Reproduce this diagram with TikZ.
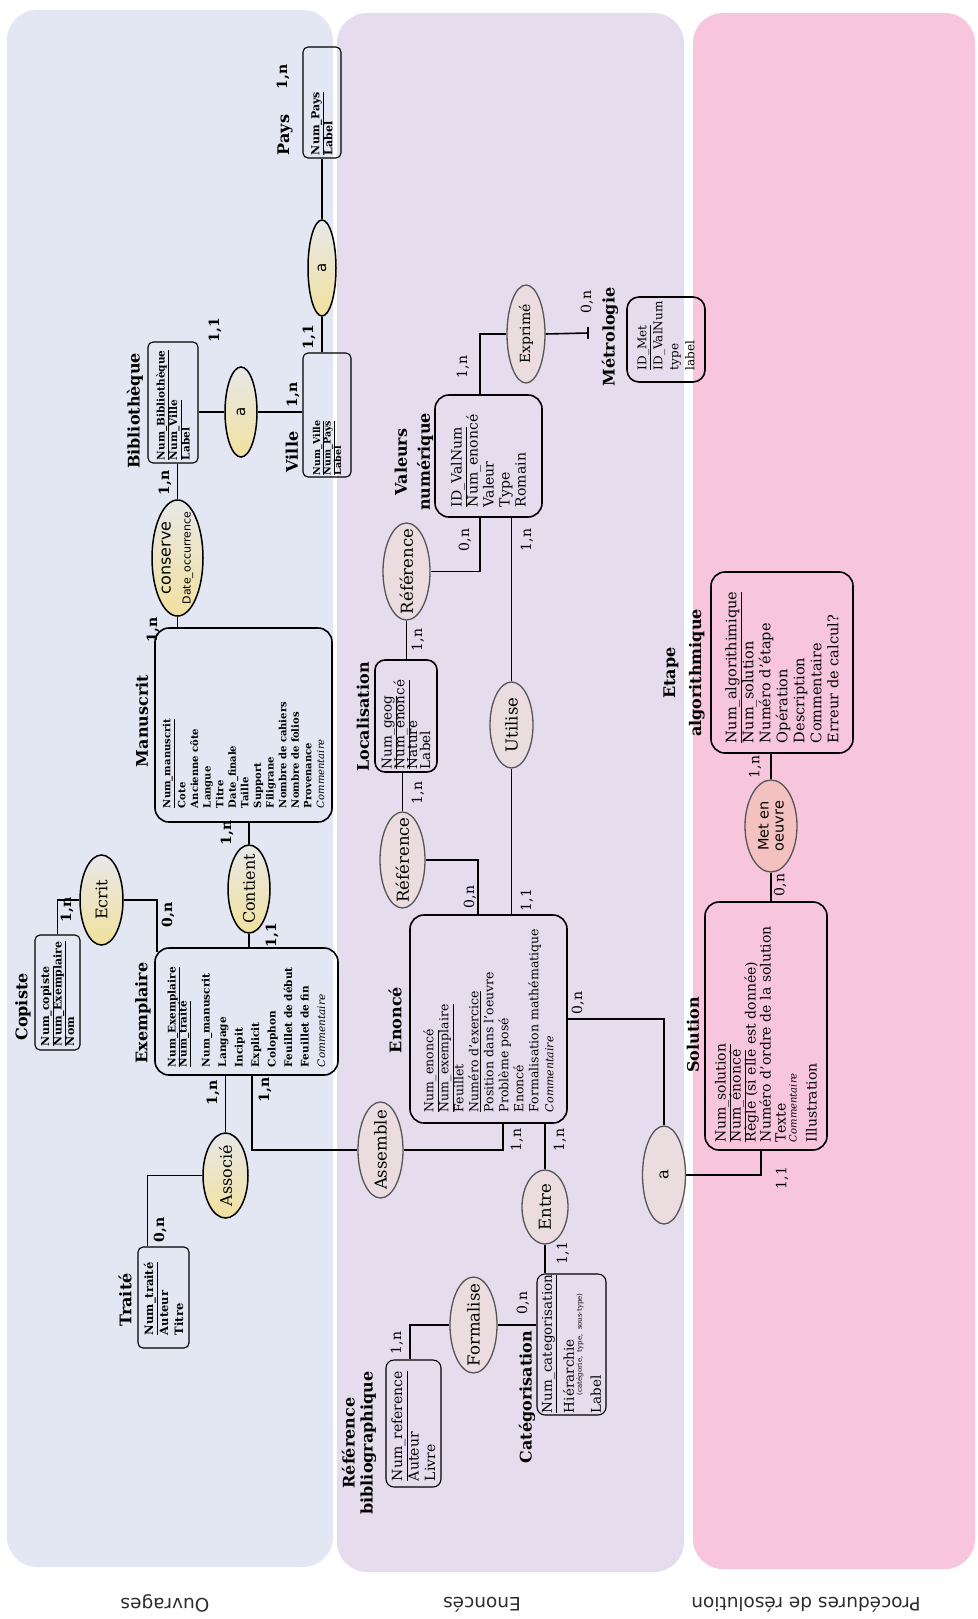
\documentclass[tikz,border=0pt]{standalone}
\usepackage{fontspec}
\setmainfont{DejaVu Serif}
\setsansfont{DejaVu Sans}
\usetikzlibrary{shapes.geometric}

\definecolor{fondouv}{RGB}{227,231,243}
\definecolor{fondeno}{RGB}{229,221,238}
\definecolor{fondproc}{RGB}{247,198,221}
\definecolor{ellgris}{RGB}{232,232,232}
\definecolor{elljaune}{RGB}{241,225,158}
\definecolor{ellrose}{RGB}{234,220,223}
\definecolor{ellsaumon}{RGB}{244,193,193}
\definecolor{bordgris}{RGB}{85,85,85}
\definecolor{textezone}{RGB}{45,45,45}

\newcommand{\taille}[2]{\fontsize{#1}{#2}\selectfont\lineskiplimit=-100pt\relax}
\newcommand{\dansell}[1]{\makebox[0pt]{#1}}

\begin{document}
\begin{tikzpicture}[x=1pt,y=-1pt,
    lien/.style={line width=1.6pt},
    ent/.style={draw,rotate=90,rounded corners=14pt,line width=1.6pt,align=left},
    petit/.style={draw,rotate=90,rounded corners=5pt,line width=1.1pt,align=left},
    titre/.style={rotate=90,align=center,font=\taille{16}{20}\bfseries},
    assoc/.style={ellipse,draw,rotate=90,inner sep=0pt,line width=1.5pt,top color=ellgris,bottom color=elljaune},
    assoce/.style={ellipse,draw=bordgris,rotate=90,inner sep=0pt,line width=1.3pt,fill=ellrose,font=\taille{16.5}{18}},
    card/.style={rotate=90,font=\taille{14}{14}},
    cardb/.style={rotate=90,font=\taille{14}{14}\bfseries},
    zone/.style={rotate=180,text=textezone,font=\sffamily\taille{18.5}{20}}]

    \useasboundingbox (0,0) rectangle (977,1619);

    % les trois zones
    \fill[fondouv,rounded corners=30pt] (7,10) rectangle (333,1567);
    \fill[fondeno,rounded corners=30pt] (337,13) rectangle (684,1572);
    \fill[fondproc,rounded corners=30pt] (693,13) rectangle (975,1569);
    \node[zone] (zOuv) at (165,1603) {Ouvrages};
    \node[zone] (zEno) at (482,1605) {Enoncés};
    \node[zone] (zProc) at (806,1605) {Procédures de résolution};

    % Ouvrages
    \node[petit,inner xsep=3pt,text width=105pt,minimum height=38pt,font=\taille{11}{13}\bfseries] (pays) at (322,102.5) {\underline{Num\_Pays}\\Label};
    \node[titre] (tPays) at (285,135) {Pays};
    \node[petit,inner xsep=2pt,text width=120pt,minimum height=48pt,font=\taille{9.5}{10.5}\bfseries] (ville) at (327,415) {\underline{Num\_Ville}\\\underline{Num\_Pays}\\Label};
    \node[titre] (tVille) at (292,452) {Ville};
    \node[petit,inner xsep=3pt,text width=115pt,minimum height=50pt,font=\taille{10.5}{12.5}\bfseries] (biblio) at (173,402.5) {\underline{Num\_Bibliothèque}\\\underline{Num\_Ville}\\Label};
    \node[titre] (tBiblio) at (135,411) {Bibliothèque};
    \node[ent,inner xsep=14pt,text width=166pt,minimum height=177pt,font=\taille{10}{12.6}\bfseries] (manus) at (243.5,725) {\underline{Num\_manuscrit}\\[2.5pt]Cote\\Ancienne côte\\Langue\\Titre\\Date\_finale\\Taille\\Support\\Filigrane\\Nombre de cahiers\\Nombre de folios\\Provenance\\\textmd{\textit{Commentaire}}};
    \node[titre] (tManus) at (142,721) {Manuscrit};
    \node[petit,inner xsep=4pt,text width=107pt,minimum height=45pt,font=\taille{11}{12.5}\bfseries] (copiste) at (57.5,992.5) {\underline{Num\_copiste}\\\underline{Num\_Exemplaire}\\Nom};
    \node[titre] (tCopiste) at (23,1007) {Copiste};
    \node[ent,inner xsep=8pt,text width=111pt,minimum height=183pt,font=\taille{10.5}{16.5}\bfseries] (exempl) at (246.5,1011.5) {\underline{Num\_Exemplaire}\\[-5.5pt]\underline{Num\_traité}\\[6.5pt]Num\_manuscrit\\Langage\\Incipit\\Explicit\\Colophon\\Feuillet de début\\Feuillet de fin\\\textmd{\textit{Commentaire}}};
    \node[titre] (tExempl) at (143,1013) {Exemplaire};
    \node[petit,inner xsep=13pt,text width=75pt,minimum height=51pt,font=\taille{11.5}{15}\bfseries] (traite) at (163.5,1297.5) {\underline{Num\_traité}\\Auteur\\Titre};
    \node[titre] (tTraite) at (125,1300) {Traité};

    \node[assoc,minimum width=96pt,minimum height=28pt,font=\sffamily\taille{15}{15}] (aPays) at (322,268) {\dansell{a}};
    \node[assoc,minimum width=90pt,minimum height=32pt,font=\sffamily\taille{15}{15}] (aVille) at (241,412) {\dansell{a}};
    \node[assoc,minimum width=116pt,minimum height=51pt,align=center,font=\sffamily\taille{16}{20}] (conserve) at (177.5,558) {\dansell{conserve}\\\dansell{\taille{11}{12}Date\_occurrence}};
    \node[assoc,minimum width=90pt,minimum height=43pt,font=\taille{16}{18}] (ecrit) at (101.5,900) {\dansell{Ecrit}};
    \node[assoc,minimum width=88pt,minimum height=42pt,font=\taille{16}{18}] (contient) at (249,889) {\dansell{Contient}};
    \node[assoc,minimum width=85pt,minimum height=45pt,font=\taille{16}{18}] (associe) at (225.5,1175.5) {\dansell{Associé}};

    % Enonces
    \node[ent,rounded corners=10pt,inner xsep=3pt,text width=106pt,minimum height=62pt,font=\taille{13.5}{12.8}] (local) at (406,716) {\underline{Num\_geog}\\\underline{Num\_enoncé}\\Nature\\Label};
    \node[titre] (tLocal) at (363,717) {Localisation};
    \node[ent,inner xsep=10pt,text width=102pt,minimum height=107pt,font=\taille{14}{16}] (valeurs) at (488.5,456) {\underline{ID\_ValNum}\\Num\_enoncé\\Valeur\\Type\\Romain};
    \node[titre,font=\taille{16}{23}\bfseries] (tValeurs) at (414,462) {Valeurs\\numérique};
    \node[ent,rounded corners=12pt,inner xsep=12pt,text width=61pt,minimum height=78pt,font=\taille{12}{16}] (metro) at (666,339.5) {\underline{ID\_Met}\\ID\_ValNum\\type\\label};
    \node[titre] (tMetro) at (610,337) {Métrologie};
    \node[ent,inner xsep=11pt,text width=186pt,minimum height=157pt,font=\taille{12.5}{15}] (enonce) at (488.5,1019) {\underline{Num\_enoncé}\\\underline{Num\_exemplaire}\\Feuillet\\\underline{Numéro d'exercice}\\Position dans l'oeuvre\\Problème posé\\Enoncé\\Formalisation~mathématique\\{\itshape\taille{11}{15}Commentaire}};
    \node[titre] (tEnonce) at (395,1020) {Enoncé};
    \node[petit,rounded corners=8pt,inner xsep=2pt,text width=137pt,minimum height=69pt,font=\taille{13.5}{15}] (categ) at (571.5,1344.5) {\underline{Num\_categorisation}\\[7pt]Hiérarchie\\[-7pt]\hspace*{18pt}{\taille{7}{8}(catégorie, type, sous-type)}\\[4pt]Label};
    \node[titre] (tCateg) at (527,1397) {Catégorisation};
    \node[petit,rounded corners=8pt,inner xsep=6pt,text width=115pt,minimum height=55pt,font=\taille{14}{16.5}] (refbib) at (413.5,1423.5) {\underline{Num\_reference}\\Auteur\\Livre};
    \node[titre,font=\taille{16}{18}\bfseries] (tRefbib) at (359,1443) {Référence\\bibliographique};

    \node[assoce,minimum width=96pt,minimum height=45pt] (assemble) at (380.5,1150) {\dansell{Assemble}};
    \node[assoce,minimum width=96pt,minimum height=45pt] (refA) at (402.5,860) {\dansell{Référence}};
    \node[assoce,minimum width=97pt,minimum height=47pt] (refB) at (406.5,571.5) {\dansell{Référence}};
    \node[assoce,minimum width=86pt,minimum height=43pt] (utilise) at (511.5,725) {\dansell{Utilise}};
    \node[assoce,minimum width=98pt,minimum height=38pt,font=\taille{14}{16}] (exprime) at (526,334) {\dansell{Exprimé}};
    \node[assoce,minimum width=74pt,minimum height=46pt] (entre) at (545,1207) {\dansell{Entre}};
    \node[assoce,minimum width=96pt,minimum height=47pt] (formalise) at (473.5,1325) {\dansell{Formalise}};
    \node[assoce,minimum width=98pt,minimum height=43pt] (aSol) at (664,1175) {\dansell{a}};
    \coordinate (finMetro) at (588,333);

    % Procedures de resolution
    \node[ent,inner xsep=8pt,text width=232pt,minimum height=122pt,font=\taille{14}{15}] (solution) at (766,1026) {\underline{Num\_solution}\\\underline{Num\_énoncé}\\Règle (si elle est donnée)\\Numéro~d'ordre~de~la~solution\\Texte\\[-4pt]{\itshape\taille{10}{12}Commentaire}\\[5pt]Illustration};
    \node[titre] (tSolution) at (693,1035) {Solution};
    \node[ent,inner xsep=10pt,text width=161pt,minimum height=142pt,font=\taille{14.5}{17}] (etape) at (782,662.5) {\underline{Num\_algorithimique}\\Num\_solution\\Numéro d'étape\\Opération\\Description\\Commentaire\\Erreur de calcul?};
    \node[titre,font=\taille{16}{26}\bfseries] (tEtape) at (684,673) {Etape\\algorithmique};
    \node[assoce,fill=ellsaumon,minimum width=92pt,minimum height=52pt,align=center,font=\sffamily\taille{14.5}{15}] (metoeuvre) at (771,826) {\dansell{Met en}\\\dansell{oeuvre}};

    % liens
    \draw[lien] (pays.west) -- (aPays.east);
    \draw[lien] (aPays.west) -- (aPays.west |- ville.east);
    \draw[lien] (biblio.south |- aVille) -- (aVille.north);
    \draw[lien] (aVille.south) -- (aVille.south -| ville.north);
    \draw[lien] (conserve.east) -- (conserve.east |- biblio.west);
    \draw[lien] (conserve.west) -- (conserve.west |- manus.east);
    \draw[lien] (contient.east) -- (contient.east |- manus.west);
    \draw[lien] (contient.west) -- (contient.west |- exempl.east);
    \draw[lien] (copiste.east) |- (ecrit.north);
    \draw[lien] (ecrit.south) -| ([xshift=3pt,yshift=-5pt]exempl.north east);
    \draw[lien] (associe.east) -- (associe.east |- exempl.west);
    \draw[lien] (associe.north) -| ([xshift=10pt]traite.north east);
    \draw[lien] ([xshift=5.5pt]exempl.west) |- (assemble.north);
    \draw[lien] (assemble.south) -| ([xshift=14.5pt]enonce.west);
    \draw[lien] (refA.south) -| ([xshift=-10.5pt]enonce.east);
    \draw[lien] (refA.east) -- (refA.east |- local.west);
    \draw[lien] (refB.west) -- (refB.west |- local.east);
    \draw[lien] (refB.south) -| ([xshift=-8.5pt]valeurs.west);
    \draw[lien] (utilise.east) -- (utilise.east |- valeurs.west);
    \draw[lien] (utilise.west) -- (utilise.west |- enonce.east);
    \draw[lien] ([xshift=-8.5pt]valeurs.east) |- (exprime.north);
    \draw[lien] (exprime.south) -- (finMetro);
    \draw[line width=2.5pt] ([yshift=6pt]finMetro) -- ([yshift=-6pt]finMetro);
    \draw[lien] (entre.east) -- (entre.east |- enonce.west);
    \draw[lien] (entre.west) -- (entre.west |- categ.east);
    \draw[lien] (formalise.south) -- (formalise.south -| categ.north);
    \draw[lien] (formalise.north) -| ([xshift=-3.5pt]refbib.east);
    \draw[lien] (enonce.south) -| (aSol.east);
    \draw[lien] (aSol.south) -| ([xshift=-5pt]solution.west);
    \draw[lien] (metoeuvre.west) -- (metoeuvre.west |- solution.east);
    \draw[lien] (metoeuvre.east) -- (metoeuvre.east |- etape.west);

    % cardinalites
    \node[cardb] (cPays) at (283,77) {1,n};
    \node[cardb] (cVilleA) at (309,337) {1,1};
    \node[cardb] (cVilleB) at (293,395) {1,n};
    \node[cardb] (cBiblioA) at (215,330) {1,1};
    \node[cardb] (cBiblioB) at (165,483) {1,n};
    \node[cardb] (cManusA) at (153,630) {1,n};
    \node[cardb] (cManusB) at (227,833) {1,n};
    \node[cardb] (cExemplA) at (272,935) {1,1};
    \node[cardb] (cCopiste) at (67,910) {1,n};
    \node[cardb] (cExemplB) at (168,915) {0,n};
    \node[cardb] (cExemplC) at (213,1093) {1,n};
    \node[cardb] (cExemplD) at (265,1090) {1,n};
    \node[cardb] (cTraite) at (160,1230) {0,n};
    \node[card] (cEnonceA) at (517,1140) {1,n};
    \node[card] (cEnonceB) at (470,897) {0,n};
    \node[card] (cLocalA) at (418,793) {1,n};
    \node[card] (cLocalB) at (418,640) {1,n};
    \node[card] (cValeursA) at (465,540) {0,n};
    \node[card] (cValeursB) at (527,540) {1,n};
    \node[card] (cEnonceC) at (527,900) {1,1};
    \node[card] (cValeursC) at (463,367) {1,n};
    \node[card] (cMetro) at (587,302) {0,n};
    \node[card] (cEnonceD) at (560,1140) {1,n};
    \node[card] (cCategA) at (563,1253) {1,1};
    \node[card] (cCategB) at (523,1303) {0,n};
    \node[card] (cRefbib) at (397,1343) {1,n};
    \node[card] (cEnonceE) at (578,1003) {0,n};
    \node[card] (cSolutionA) at (782,1178) {1,1};
    \node[card] (cSolutionB) at (780,885) {0,n};
    \node[card] (cEtape) at (755,767) {1,n};
\end{tikzpicture}
\end{document}
